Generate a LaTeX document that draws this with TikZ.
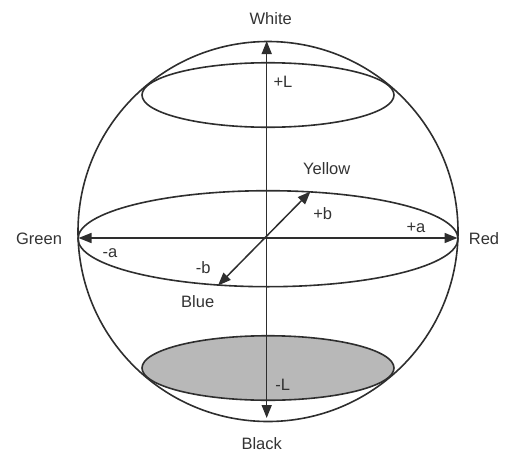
\documentclass[tikz,border=0pt]{standalone}
\usepackage{fontspec}
\setmainfont{Liberation Sans}
\usetikzlibrary{arrows.meta,shapes.geometric}
\begin{document}
\begin{tikzpicture}[x=1pt,y=-1pt,
  line/.style={line width=1.6pt,draw=black!82},
  axis/.style={line,line width=1.5pt,{Triangle[length=13pt,width=10pt]}-{Triangle[length=13pt,width=10pt]}},
  lbl/.style={font=\fontsize{16.5}{18}\selectfont,text=black!80,inner sep=0pt}]
\useasboundingbox (0,0) rectangle (505,452);
% sphere and sections
\node[line,circle,minimum size=380pt,inner sep=0pt,draw] (sphere) at (268,231.5) {};
\node[line,ellipse,draw,minimum width=252pt,minimum height=64.5pt,inner sep=0pt] (topsec) at (268,95) {};
\node[line,ellipse,draw,fill=black!28!white,minimum width=252pt,minimum height=64.5pt,inner sep=0pt] (botsec) at (268,368) {};
\node[line,ellipse,draw,minimum width=380pt,minimum height=96pt,inner sep=0pt] (equator) at (268,238.7) {};
% axis end points
\coordinate (Ltop) at (266.7,41);
\coordinate (Lbot) at (266.7,418);
\coordinate (aneg) at (78.5,238);
\coordinate (apos) at (457.5,238);
\coordinate (bpos) at (310.5,191.5);
\coordinate (bneg) at (218,285.5);
\draw[axis] (Lbot) -- (Ltop);
\draw[axis] (aneg) -- (apos);
\draw[axis] (bneg) -- (bpos);
% labels
\node[lbl] (white) at (270.7,19) {White};
\node[lbl] (black) at (261.7,444) {Black};
\node[lbl] (green) at (39,238.5) {Green};
\node[lbl] (red) at (484,238.5) {Red};
\node[lbl] (yellow) at (326.7,169) {Yellow};
\node[lbl] (blue) at (197.7,301.5) {Blue};
\node[lbl] (pL) at (283,82) {+L};
\node[lbl] (mL) at (282.7,384.5) {-L};
\node[lbl] (pa) at (416,227.5) {+a};
\node[lbl] (ma) at (110,253.5) {-a};
\node[lbl] (pb) at (322.7,213.5) {+b};
\node[lbl] (mb) at (203.3,267.5) {-b};
\end{tikzpicture}
\end{document}
